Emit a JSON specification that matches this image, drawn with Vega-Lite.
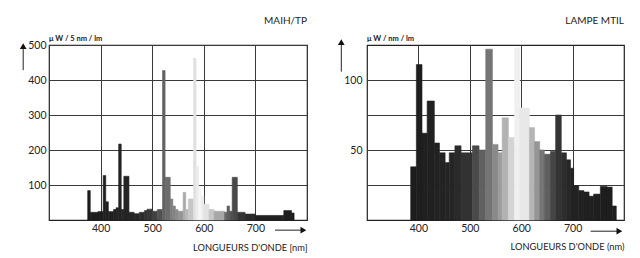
{
  "$schema": "https://vega.github.io/schema/vega-lite/v6.json",
  "background": "#ffffff",
  "padding": {"left": 19, "top": 15, "right": 10, "bottom": 5},
  "bounds": "flush",
  "spacing": 60,
  "config": {
    "font": "Lato",
    "view": {"stroke": "#222222", "strokeWidth": 1.2, "fill": "#ffffff"},
    "axis": {
      "grid": true, "gridColor": "#3a3a3a", "gridOpacity": 1, "gridWidth": 1,
      "domain": false, "ticks": false,
      "labelFont": "Lato", "labelFontSize": 10.5, "labelColor": "#222222",
      "titleFont": "Lato", "titleFontSize": 9.3, "titleFontWeight": "normal", "titleColor": "#222222"
    },
    "title": {"font": "Lato", "fontSize": 10, "fontWeight": "normal", "color": "#222222", "anchor": "end", "frame": "group", "offset": 9}
  },
  "datasets": {
    "maih": [
      {"nm_start": 375, "nm_end": 380, "value": 84},
      {"nm_start": 380, "nm_end": 395, "value": 22},
      {"nm_start": 395, "nm_end": 405, "value": 24},
      {"nm_start": 405, "nm_end": 410, "value": 127},
      {"nm_start": 410, "nm_end": 415, "value": 52},
      {"nm_start": 415, "nm_end": 425, "value": 24},
      {"nm_start": 425, "nm_end": 430, "value": 30},
      {"nm_start": 430, "nm_end": 435, "value": 35},
      {"nm_start": 435, "nm_end": 440, "value": 217},
      {"nm_start": 440, "nm_end": 445, "value": 30},
      {"nm_start": 445, "nm_end": 455, "value": 125},
      {"nm_start": 455, "nm_end": 465, "value": 22},
      {"nm_start": 465, "nm_end": 475, "value": 18},
      {"nm_start": 475, "nm_end": 485, "value": 22},
      {"nm_start": 485, "nm_end": 490, "value": 27},
      {"nm_start": 490, "nm_end": 500, "value": 31},
      {"nm_start": 500, "nm_end": 510, "value": 25},
      {"nm_start": 510, "nm_end": 520, "value": 30},
      {"nm_start": 520, "nm_end": 525, "value": 427},
      {"nm_start": 525, "nm_end": 535, "value": 122},
      {"nm_start": 535, "nm_end": 540, "value": 60},
      {"nm_start": 540, "nm_end": 545, "value": 40},
      {"nm_start": 545, "nm_end": 550, "value": 30},
      {"nm_start": 550, "nm_end": 560, "value": 25},
      {"nm_start": 560, "nm_end": 565, "value": 79},
      {"nm_start": 565, "nm_end": 570, "value": 30},
      {"nm_start": 570, "nm_end": 580, "value": 60},
      {"nm_start": 580, "nm_end": 585, "value": 462},
      {"nm_start": 585, "nm_end": 590, "value": 153},
      {"nm_start": 590, "nm_end": 595, "value": 95},
      {"nm_start": 595, "nm_end": 600, "value": 68},
      {"nm_start": 600, "nm_end": 610, "value": 45},
      {"nm_start": 610, "nm_end": 620, "value": 30},
      {"nm_start": 620, "nm_end": 640, "value": 25},
      {"nm_start": 640, "nm_end": 645, "value": 22},
      {"nm_start": 645, "nm_end": 650, "value": 40},
      {"nm_start": 650, "nm_end": 655, "value": 25},
      {"nm_start": 655, "nm_end": 665, "value": 122},
      {"nm_start": 665, "nm_end": 680, "value": 22},
      {"nm_start": 680, "nm_end": 700, "value": 17},
      {"nm_start": 700, "nm_end": 755, "value": 13},
      {"nm_start": 755, "nm_end": 770, "value": 27},
      {"nm_start": 770, "nm_end": 775, "value": 20}
    ],
    "mtil": [
      {"nm_start": 385, "nm_end": 396, "value": 38},
      {"nm_start": 396, "nm_end": 407, "value": 111},
      {"nm_start": 407, "nm_end": 417, "value": 62},
      {"nm_start": 417, "nm_end": 431, "value": 85},
      {"nm_start": 431, "nm_end": 441, "value": 55},
      {"nm_start": 441, "nm_end": 452, "value": 48},
      {"nm_start": 452, "nm_end": 460, "value": 41},
      {"nm_start": 460, "nm_end": 471, "value": 48},
      {"nm_start": 471, "nm_end": 483, "value": 53},
      {"nm_start": 483, "nm_end": 505, "value": 48},
      {"nm_start": 505, "nm_end": 518, "value": 53},
      {"nm_start": 518, "nm_end": 531, "value": 50},
      {"nm_start": 531, "nm_end": 544, "value": 122},
      {"nm_start": 544, "nm_end": 555, "value": 54},
      {"nm_start": 555, "nm_end": 563, "value": 48},
      {"nm_start": 563, "nm_end": 575, "value": 73},
      {"nm_start": 575, "nm_end": 587, "value": 59},
      {"nm_start": 587, "nm_end": 597, "value": 123},
      {"nm_start": 597, "nm_end": 616, "value": 80},
      {"nm_start": 616, "nm_end": 626, "value": 66},
      {"nm_start": 626, "nm_end": 636, "value": 56},
      {"nm_start": 636, "nm_end": 645, "value": 50},
      {"nm_start": 645, "nm_end": 657, "value": 47},
      {"nm_start": 657, "nm_end": 667, "value": 49},
      {"nm_start": 667, "nm_end": 678, "value": 75},
      {"nm_start": 678, "nm_end": 688, "value": 48},
      {"nm_start": 688, "nm_end": 696, "value": 43},
      {"nm_start": 696, "nm_end": 702, "value": 37},
      {"nm_start": 702, "nm_end": 712, "value": 24.5},
      {"nm_start": 712, "nm_end": 722, "value": 21},
      {"nm_start": 722, "nm_end": 732, "value": 20},
      {"nm_start": 732, "nm_end": 741, "value": 17},
      {"nm_start": 741, "nm_end": 754, "value": 18.5},
      {"nm_start": 754, "nm_end": 767, "value": 24},
      {"nm_start": 767, "nm_end": 777, "value": 23.5},
      {"nm_start": 777, "nm_end": 785, "value": 10}
    ]
  },
  "hconcat": [
    {
      "width": 258,
      "height": 175,
      "title": {"text": "MAIH/TP"},
      "layer": [
        {
          "data": {"name": "maih"},
          "mark": {"type": "rect", "strokeWidth": 0.6},
          "encoding": {
            "x": {"field": "nm_start", "type": "quantitative", "scale": {"domain": [300, 800], "nice": false, "zero": false},
                  "axis": {"values": [400, 500, 600, 700], "title": "LONGUEURS D'ONDE [nm]", "titleAnchor": "end", "titlePadding": 10, "labelPadding": 3}},
            "x2": {"field": "nm_end"},
            "y": {"field": "value", "type": "quantitative", "scale": {"domain": [0, 500], "nice": false},
                  "axis": {"values": [100, 200, 300, 400, 500], "title": null, "labelPadding": 3}},
            "y2": {"datum": 0},
            "color": {"field": "nm_start", "type": "quantitative", "legend": null,
                      "scale": {"domain": [375, 465, 495, 525, 555, 575, 590, 605, 620, 640, 665, 695, 785],
                                "range": ["#1c1c1c", "#262626", "#3a3a3a", "#6c6c6c", "#9c9c9c", "#d4d4d4", "#f7f7f7", "#d8d8d8", "#a8a8a8", "#6a6a6a", "#353535", "#222222", "#1c1c1c"]}},
            "stroke": {"field": "nm_start", "type": "quantitative", "legend": null,
                      "scale": {"domain": [375, 465, 495, 525, 555, 575, 590, 605, 620, 640, 665, 695, 785],
                                "range": ["#1c1c1c", "#262626", "#3a3a3a", "#6c6c6c", "#9c9c9c", "#d4d4d4", "#f7f7f7", "#d8d8d8", "#a8a8a8", "#6a6a6a", "#353535", "#222222", "#1c1c1c"]}}
          }
        },
        {
          "data": {"values": [{}]},
          "mark": {"type": "text", "align": "left", "baseline": "bottom", "dy": -2, "fontSize": 7.5, "fontWeight": "bold", "color": "#222222"},
          "encoding": {"x": {"datum": 300}, "y": {"datum": 500}, "text": {"value": "μ W / 5 nm / lm"}}
        },
        {
          "data": {"values": [{}]},
          "mark": {"type": "rule", "color": "#222222", "strokeWidth": 1},
          "encoding": {"x": {"datum": 250}, "y": {"datum": 428}, "y2": {"datum": 495}}
        },
        {
          "data": {"values": [{}]},
          "mark": {"type": "point", "shape": "triangle-up", "filled": true, "size": 45, "color": "#111111", "opacity": 1},
          "encoding": {"x": {"datum": 250}, "y": {"datum": 497}}
        },
        {
          "data": {"values": [{}]},
          "mark": {"type": "rule", "color": "#222222", "strokeWidth": 1},
          "encoding": {"x": {"datum": 738}, "x2": {"datum": 790}, "y": {"datum": -29}}
        },
        {
          "data": {"values": [{}]},
          "mark": {"type": "point", "shape": "triangle-right", "filled": true, "size": 45, "color": "#111111", "opacity": 1},
          "encoding": {"x": {"datum": 793}, "y": {"datum": -29}}
        }
      ]
    },
    {
      "width": 257,
      "height": 175,
      "title": {"text": "LAMPE MTIL"},
      "layer": [
        {
          "data": {"name": "mtil"},
          "mark": {"type": "rect", "strokeWidth": 0.6},
          "encoding": {
            "x": {"field": "nm_start", "type": "quantitative", "scale": {"domain": [300, 800], "nice": false, "zero": false},
                  "axis": {"values": [400, 500, 600, 700], "title": "LONGUEURS D'ONDE (nm)", "titleAnchor": "end", "titlePadding": 9, "labelPadding": 3}},
            "x2": {"field": "nm_end"},
            "y": {"field": "value", "type": "quantitative", "scale": {"domain": [0, 125], "nice": false},
                  "axis": {"values": [25, 50, 75, 100], "labelExpr": "datum.value % 50 === 0 ? datum.label : ''", "title": null, "labelPadding": 5}},
            "y2": {"datum": 0},
            "color": {"field": "nm_start", "type": "quantitative", "legend": null,
                      "scale": {"domain": [375, 465, 495, 525, 555, 575, 590, 605, 620, 640, 665, 695, 785],
                                "range": ["#1c1c1c", "#262626", "#3a3a3a", "#6c6c6c", "#9c9c9c", "#d4d4d4", "#f7f7f7", "#d8d8d8", "#a8a8a8", "#6a6a6a", "#353535", "#222222", "#1c1c1c"]}},
            "stroke": {"field": "nm_start", "type": "quantitative", "legend": null,
                      "scale": {"domain": [375, 465, 495, 525, 555, 575, 590, 605, 620, 640, 665, 695, 785],
                                "range": ["#1c1c1c", "#262626", "#3a3a3a", "#6c6c6c", "#9c9c9c", "#d4d4d4", "#f7f7f7", "#d8d8d8", "#a8a8a8", "#6a6a6a", "#353535", "#222222", "#1c1c1c"]}}
          }
        },
        {
          "data": {"values": [{}]},
          "mark": {"type": "text", "align": "left", "baseline": "bottom", "dy": -2, "fontSize": 7.5, "fontWeight": "bold", "color": "#222222"},
          "encoding": {"x": {"datum": 300}, "y": {"datum": 125}, "text": {"value": "μ W / nm / lm"}}
        },
        {
          "data": {"values": [{}]},
          "mark": {"type": "rule", "color": "#222222", "strokeWidth": 1},
          "encoding": {"x": {"datum": 250}, "y": {"datum": 106}, "y2": {"datum": 126}}
        },
        {
          "data": {"values": [{}]},
          "mark": {"type": "point", "shape": "triangle-up", "filled": true, "size": 45, "color": "#111111", "opacity": 1},
          "encoding": {"x": {"datum": 250}, "y": {"datum": 127}}
        },
        {
          "data": {"values": [{}]},
          "mark": {"type": "rule", "color": "#222222", "strokeWidth": 1},
          "encoding": {"x": {"datum": 735}, "x2": {"datum": 788}, "y": {"datum": -8}}
        },
        {
          "data": {"values": [{}]},
          "mark": {"type": "point", "shape": "triangle-right", "filled": true, "size": 45, "color": "#111111", "opacity": 1},
          "encoding": {"x": {"datum": 791}, "y": {"datum": -8}}
        }
      ]
    }
  ],
  "resolve": {"scale": {"color": "independent", "stroke": "independent"}}
}
